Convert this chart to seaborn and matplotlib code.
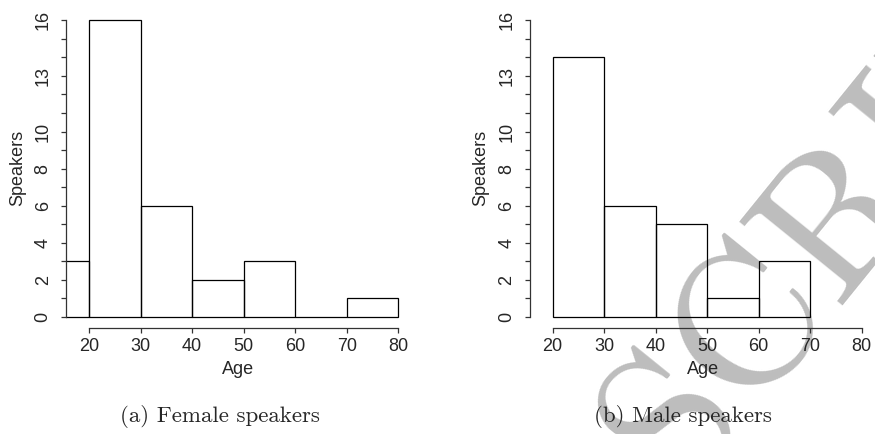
import matplotlib
matplotlib.use("Agg")
import matplotlib.pyplot as plt
import seaborn as sns
import numpy as np
from matplotlib.ticker import FixedLocator

# ---- data ----
female_bin_edges = [10, 20, 30, 40, 50, 60, 70, 80]
female_counts = [3, 16, 6, 2, 3, 0, 1]
male_bin_edges = [20, 30, 40, 50, 60, 70]
male_counts = [14, 6, 5, 1, 3]
x_ticks = [20, 30, 40, 50, 60, 70, 80]
y_tick_labels = [0, 2, 4, 6, 8, 10, 13, 16]
y_minor_ticks = list(range(0, 17))
captions = ["(a) Female speakers", "(b) Male speakers"]
x_label = "Age"
y_label = "Speakers"

sns.set_style("white")
plt.rcParams["font.family"] = ["Liberation Sans", "DejaVu Sans"]

W, H = 875, 434
fig = plt.figure(figsize=(W / 100, H / 100), dpi=100)
fig.patch.set_facecolor("white")

px_x = 309 / 60.0      # pixels per year
px_y = (317 - 20.3) / 16.0  # pixels per speaker
xlo, xhi = 15.5, 81.0
ylo, yhi = -0.15, 16.5
ax_w = (xhi - xlo) * px_x
ax_h = (yhi - ylo) * px_y
zero_px = 317
bottom_px = zero_px - ylo * px_y

panels = [
    (66.0, female_bin_edges, female_counts, captions[0], 220, 238),
    (529.5, male_bin_edges, male_counts, captions[1], 683, 703),
]

for left_px, edges, counts, cap, cap_x, lab_x in panels:
    ax = fig.add_axes([left_px / W, (H - bottom_px) / H, ax_w / W, ax_h / H])
    ax.set_facecolor("none")
    mids = [(edges[i] + edges[i + 1]) / 2 for i in range(len(counts))]
    sns.histplot(x=mids, weights=counts, bins=edges, stat="count",
                 fill=False, element="bars", color="black",
                 linewidth=0.9, ax=ax)
    ax.set_xlim(xlo, xhi)
    ax.set_ylim(ylo, yhi)
    for s in ["top", "right"]:
        ax.spines[s].set_visible(False)
    ax.spines["left"].set_bounds(0, 16)
    ax.spines["bottom"].set_bounds(20, 80)
    ax.spines["bottom"].set_position(("outward", (328 - bottom_px) / 100 * 72))
    for s in ["left", "bottom"]:
        ax.spines[s].set_color("#333333")
        ax.spines[s].set_linewidth(0.9)
    ax.set_xticks(x_ticks)
    ax.set_xticklabels([str(v) for v in x_ticks])
    ax.yaxis.set_major_locator(FixedLocator(y_tick_labels))
    ax.set_yticklabels([str(v) for v in y_tick_labels], rotation=90, va="center")
    ax.yaxis.set_minor_locator(FixedLocator(y_minor_ticks))
    ax.tick_params(axis="both", which="both", direction="out", length=3.8,
                   width=0.9, color="#333333", labelsize=13)
    ax.tick_params(axis="y", which="major", pad=6.5, left=True)
    ax.tick_params(axis="y", which="minor", left=True)
    ax.tick_params(axis="x", which="major", pad=3.5, bottom=True)
    ax.set_xlabel(x_label, fontsize=13)
    ax.xaxis.set_label_coords((lab_x - left_px) / ax_w, -(361 - bottom_px) / ax_h)
    ax.set_ylabel(y_label, fontsize=13)
    ax.yaxis.set_label_coords(-40 / ax_w, (bottom_px - 168) / ax_h)
    fig.text(cap_x / W, 1 - 417 / H, cap, family="cmr10", fontsize=16.5,
             ha="center", va="center")

# watermark
fig.text(678 / W, 1 - 494 / H, "SCRIPT", family="cmr10", fontsize=140,
         color="#bdbdbd", rotation=51, rotation_mode="anchor",
         ha="left", va="baseline", zorder=-5)

fig.savefig("out.png", dpi=100)
